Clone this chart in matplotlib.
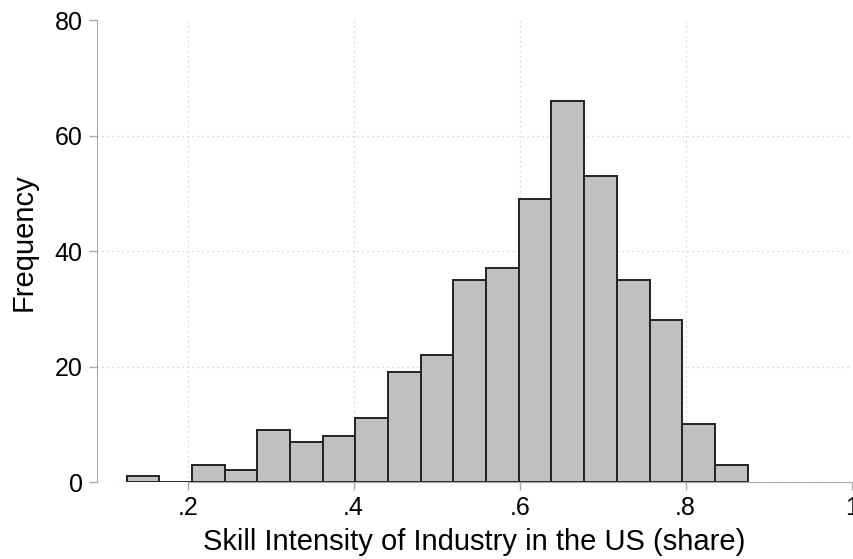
import matplotlib
matplotlib.use("Agg")
import matplotlib.pyplot as plt
import numpy as np

plt.rcParams['font.family'] = ['Liberation Sans', 'DejaVu Sans']

# histogram data
bin_start = 0.1265
bin_width = 0.03937
counts = [1, 0, 3, 2, 9, 7, 8, 11, 19, 22, 35, 37, 49, 66, 53, 35, 28, 10, 3]
x_ticks = [0.2, 0.4, 0.6, 0.8, 1.0]
x_ticklabels = ['.2', '.4', '.6', '.8', '1']
y_ticks = [0, 20, 40, 60, 80]

edges = bin_start + bin_width * np.arange(len(counts))

fig = plt.figure(figsize=(8.54, 5.59), dpi=100)
ax = fig.add_axes([0.1132, 0.1377, 0.8841, 0.8265])

# dotted grid
for gx in x_ticks[:-1]:
    ax.axvline(gx, color='#cccccc', linestyle=(0, (1, 3)), linewidth=0.9, zorder=0)
for gy in y_ticks[:-1]:
    ax.axhline(gy, color='#cccccc', linestyle=(0, (1, 3)), linewidth=0.9, zorder=0)

ax.bar(edges, counts, width=bin_width, align='edge', color='#c0c0c0',
       edgecolor='#222222', linewidth=1.4, zorder=3)

ax.set_xlim(0.0904, 1.0)
ax.set_ylim(0, 80)
ax.set_xticks(x_ticks)
ax.set_xticklabels(x_ticklabels)
ax.set_yticks(y_ticks)

for s in ['top', 'right']:
    ax.spines[s].set_visible(False)
ax.spines['left'].set_color('#aaaaaa')
ax.spines['bottom'].set_color('#aaaaaa')
ax.spines['bottom'].set_bounds(0.2, 1.0)
ax.spines['left'].set_zorder(4)
ax.spines['bottom'].set_zorder(4)

ax.tick_params(axis='both', colors='#aaaaaa', labelcolor='black',
               length=6, width=1, labelsize=18, pad=4)

ax.set_xlabel('Skill Intensity of Industry in the US (share)', fontsize=21, labelpad=6)
ax.set_ylabel('Frequency', fontsize=21)
ax.yaxis.set_label_coords(-0.078, 0.52)

fig.savefig('out.png', dpi=100)
